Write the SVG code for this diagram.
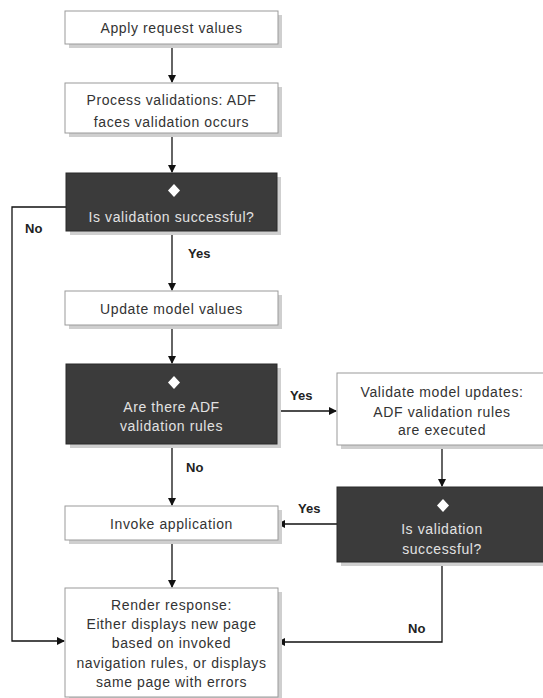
<svg xmlns="http://www.w3.org/2000/svg" width="543" height="698" viewBox="0 0 543 698">
<style>
.box{fill:#fff;stroke:#9a9a9a;stroke-width:1}
.dark{fill:#3b3b3b;stroke:#2a2a2a;stroke-width:1}
.sh{fill:#cfcfcf}
.t{font-family:"Liberation Sans",Arial,sans-serif;font-size:14px;fill:#333;text-anchor:middle;letter-spacing:0.6px}
.td{font-family:"Liberation Sans",Arial,sans-serif;font-size:14px;fill:#e2e2e2;text-anchor:middle;letter-spacing:0.6px}
.lbl{font-family:"Liberation Sans",Arial,sans-serif;font-size:13px;font-weight:bold;fill:#222}
.dia{fill:#fff}
.c{fill:none;stroke:#111;stroke-width:1.3}
</style>
<defs>
<marker id="ah" markerWidth="8" markerHeight="8" refX="7" refY="4" orient="auto" markerUnits="userSpaceOnUse">
<path d="M0,0 L8,4 L0,8 Z" fill="#111"/>
</marker>
</defs>
<rect width="543" height="698" fill="#fff"/>

<g id="connectors">
<path class="c" d="M172,44 V82" marker-end="url(#ah)"/>
<path class="c" d="M172,133 V172" marker-end="url(#ah)"/>
<path class="c" d="M172,231 V290" marker-end="url(#ah)"/>
<path class="c" d="M172,325 V363" marker-end="url(#ah)"/>
<path class="c" d="M172,444 V505" marker-end="url(#ah)"/>
<path class="c" d="M276,411 H336" marker-end="url(#ah)"/>
<path class="c" d="M442,445 V486" marker-end="url(#ah)"/>
<path class="c" d="M337,524 H278" marker-end="url(#ah)"/>
<path class="c" d="M172,540 V587" marker-end="url(#ah)"/>
<path class="c" d="M66,207 H12 V641 H64" marker-end="url(#ah)"/>
<path class="c" d="M442,562 V642 H278" marker-end="url(#ah)"/>
<text class="lbl" x="25" y="233">No</text>
<text class="lbl" x="188" y="258">Yes</text>
<text class="lbl" x="186" y="472">No</text>
<text class="lbl" x="290" y="400">Yes</text>
<text class="lbl" x="298" y="513">Yes</text>
<text class="lbl" x="408" y="633">No</text>
</g>

<g id="apply">
<rect class="sh" x="69" y="15" width="213" height="33"/>
<rect class="box" x="65" y="11" width="213" height="33"/>
<text class="t" x="171.5" y="33">Apply request values</text>
</g>

<g id="process">
<rect class="sh" x="69" y="87" width="213" height="50"/>
<rect class="box" x="65" y="83" width="213" height="50"/>
<text class="t" x="171.5" y="105">Process validations: ADF</text>
<text class="t" x="171.5" y="127">faces validation occurs</text>
</g>

<g id="decision1">
<rect class="sh" x="70" y="177" width="211" height="58"/>
<rect class="dark" x="66" y="173" width="211" height="58"/>
<path class="dia" d="M174,184 L180,190.5 L174,197 L168,190.5 Z"/>
<text class="td" x="171.5" y="222">Is validation successful?</text>
</g>

<g id="update">
<rect class="sh" x="69" y="295" width="213" height="34"/>
<rect class="box" x="65" y="291" width="213" height="34"/>
<text class="t" x="171.5" y="314">Update model values</text>
</g>

<g id="decision2">
<rect class="sh" x="70" y="368" width="211" height="80"/>
<rect class="dark" x="66" y="364" width="211" height="80"/>
<path class="dia" d="M174,376 L180,382.5 L174,389 L168,382.5 Z"/>
<text class="td" x="171.5" y="412">Are there ADF</text>
<text class="td" x="171.5" y="431">validation rules</text>
</g>

<g id="validate">
<rect class="sh" x="341" y="377" width="212" height="72"/>
<rect class="box" x="337" y="373" width="212" height="72"/>
<text class="t" x="442" y="397">Validate model updates:</text>
<text class="t" x="442" y="417">ADF validation rules</text>
<text class="t" x="442" y="435">are executed</text>
</g>

<g id="decision3">
<rect class="sh" x="341" y="491" width="212" height="75"/>
<rect class="dark" x="337" y="487" width="212" height="75"/>
<path class="dia" d="M443,499 L449,505.5 L443,512 L437,505.5 Z"/>
<text class="td" x="442" y="534">Is validation</text>
<text class="td" x="442" y="554">successful?</text>
</g>

<g id="invoke">
<rect class="sh" x="69" y="510" width="213" height="34"/>
<rect class="box" x="65" y="506" width="213" height="34"/>
<text class="t" x="171.5" y="529">Invoke application</text>
</g>

<g id="render">
<rect class="sh" x="69" y="592" width="213" height="110"/>
<rect class="box" x="65" y="588" width="213" height="109"/>
<text class="t" x="171.5" y="610">Render response:</text>
<text class="t" x="171.5" y="629">Either displays new page</text>
<text class="t" x="171.5" y="648">based on invoked</text>
<text class="t" x="171.5" y="668">navigation rules, or displays</text>
<text class="t" x="171.5" y="687">same page with errors</text>
</g>
</svg>
